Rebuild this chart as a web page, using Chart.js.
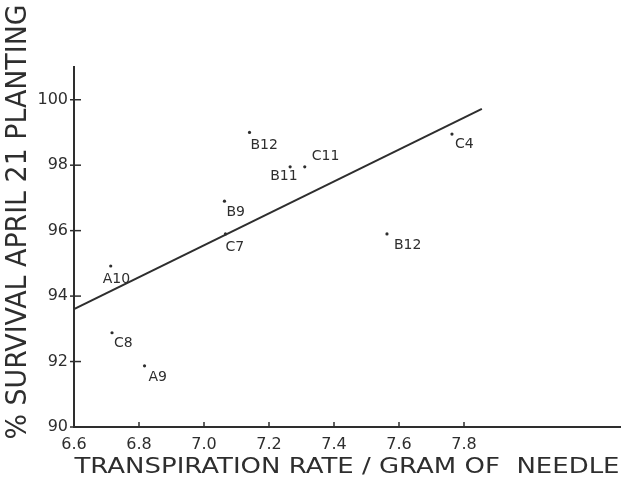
<!DOCTYPE html>
<html>
<head>
<meta charset="utf-8">
<script src="https://cdn.jsdelivr.net/npm/chart.js@4.4.1/dist/chart.umd.min.js"></script>
<style>
  html, body { margin: 0; padding: 0; background: #ffffff; }
  canvas { display: block; }
</style>
</head>
<body>
<canvas id="chart" width="624" height="487"></canvas>
<script>
// plot data
const plotLabels = ["B12", "C11", "B11", "B9", "C7", "A10", "C8", "A9", "C4", "B12"];
const transpiration = [7.14, 7.31, 7.265, 7.063, 7.066, 6.713, 6.717, 6.817, 7.763, 7.563];
const survival = [99.0, 97.95, 97.95, 96.9, 95.9, 94.92, 92.88, 91.87, 98.95, 95.9];

// fitted line end points
const fitX = [6.6, 7.855];
const fitY = [93.6, 99.72];

const xTicks = [6.6, 6.8, 7.0, 7.2, 7.4, 7.6, 7.8];
const yTicks = [90, 92, 94, 96, 98, 100];

const xTitle = "TRANSPIRATION RATE / GRAM OF  NEEDLE";
const yTitle = "% SURVIVAL APRIL 21 PLANTING";

// where each plot label sits relative to its dot (left edge, middle)
const labelOffsets = [[1, 13], [7, -10], [-20, 10], [2, 11], [0, 13], [-8, 13], [2, 11], [4, 12], [3, 10], [7, 11]];

const ink = "#2e2e2e";
const handFont = "'DejaVu Sans', sans-serif";

const points = transpiration.map((x, i) => ({ x: x, y: survival[i] }));
const fitLine = fitX.map((x, i) => ({ x: x, y: fitY[i] }));

// stretch text to a given length, like the hand lettering
function drawStretched(ctx, text, cx, cy, size, length, angle) {
  ctx.save();
  ctx.font = size + "px " + handFont;
  const w = ctx.measureText(text).width;
  ctx.translate(cx, cy);
  ctx.rotate(angle);
  ctx.scale(length / w, 1);
  ctx.textAlign = "center";
  ctx.textBaseline = "middle";
  ctx.fillStyle = ink;
  ctx.fillText(text, 0, 0);
  ctx.restore();
}

const handDrawn = {
  id: "handDrawn",
  afterDraw(chart) {
    const ctx = chart.ctx;
    const xs = chart.scales.x;
    const ys = chart.scales.y;
    const area = chart.chartArea;

    // tick marks point inward
    ctx.save();
    ctx.strokeStyle = ink;
    ctx.lineWidth = 1.5;
    xTicks.forEach(v => {
      const px = xs.getPixelForValue(v);
      ctx.beginPath();
      ctx.moveTo(px, area.bottom);
      ctx.lineTo(px, area.bottom - 5);
      ctx.stroke();
    });
    yTicks.forEach(v => {
      const py = ys.getPixelForValue(v);
      ctx.beginPath();
      ctx.moveTo(area.left - 4, py);
      ctx.lineTo(area.left + 7, py);
      ctx.stroke();
    });
    ctx.restore();

    // labels next to the dots
    ctx.save();
    ctx.font = "14px " + handFont;
    ctx.fillStyle = ink;
    ctx.textAlign = "left";
    ctx.textBaseline = "middle";
    points.forEach((p, i) => {
      const px = xs.getPixelForValue(p.x);
      const py = ys.getPixelForValue(p.y);
      ctx.fillText(plotLabels[i], px + labelOffsets[i][0], py + labelOffsets[i][1]);
    });
    ctx.restore();

    // axis titles
    drawStretched(ctx, xTitle, 347, 467, 22, 545, 0);
    drawStretched(ctx, yTitle, 19, 222, 28, 435, -Math.PI / 2);
  }
};

new Chart(document.getElementById("chart"), {
  data: {
    datasets: [
      {
        type: "scatter",
        data: points,
        pointRadius: 1.6,
        pointBackgroundColor: ink,
        pointBorderWidth: 0
      },
      {
        type: "line",
        data: fitLine,
        borderColor: ink,
        borderWidth: 2,
        pointRadius: 0,
        fill: false
      }
    ]
  },
  options: {
    responsive: false,
    animation: false,
    layout: { padding: { top: 67, left: 0, right: 0, bottom: 0 } },
    plugins: {
      legend: { display: false },
      tooltip: { enabled: false }
    },
    scales: {
      x: {
        type: "linear",
        min: 6.6,
        max: 8.28,
        afterBuildTicks: scale => { scale.ticks = xTicks.map(v => ({ value: v })); },
        afterFit: scale => { scale.height = 60; },
        grid: { display: true, drawOnChartArea: false, drawTicks: false },
        border: { display: true, color: ink, width: 2 },
        ticks: {
          color: ink,
          font: { family: handFont, size: 16 },
          padding: 8,
          maxRotation: 0,
          autoSkip: false,
          callback: v => v.toFixed(1)
        }
      },
      y: {
        type: "linear",
        min: 90,
        max: 101,
        afterBuildTicks: scale => { scale.ticks = yTicks.map(v => ({ value: v })); },
        afterFit: scale => { scale.width = 74; },
        grid: { display: true, drawOnChartArea: false, drawTicks: false },
        border: { display: true, color: ink, width: 2 },
        ticks: {
          color: ink,
          font: { family: handFont, size: 16 },
          padding: 6,
          autoSkip: false,
          callback: v => String(v)
        }
      }
    }
  },
  plugins: [handDrawn]
});
</script>
</body>
</html>
